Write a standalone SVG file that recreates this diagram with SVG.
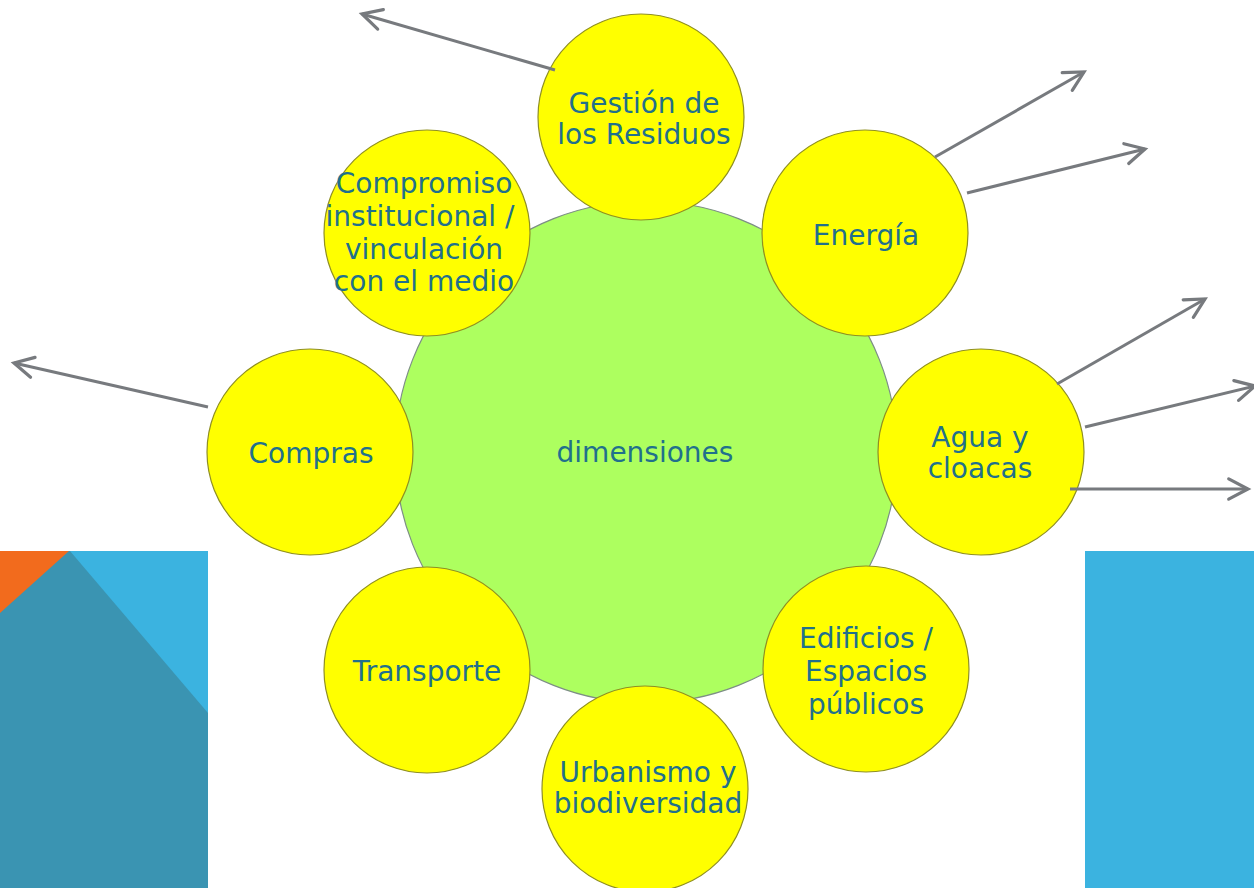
<svg xmlns="http://www.w3.org/2000/svg" width="1254" height="888" viewBox="0 0 1254 888">
<defs>
<style>
.bg{fill:#ffffff}
.hub{fill:#adff5f;stroke:#7d8e86;stroke-width:1.2}
.dim{fill:#ffff00;stroke:#8f8f22;stroke-width:1.2}
.lbl{font-family:"DejaVu Sans","Verdana",sans-serif;font-size:28px;fill:#21708c;text-anchor:middle}
.arr{stroke:#777a7e;stroke-width:3;fill:none;marker-end:url(#head)}
</style>
<marker id="head" markerUnits="userSpaceOnUse" markerWidth="30" markerHeight="30" viewBox="-22 -14 26 28" refX="0" refY="0" orient="auto">
<path d="M-18,-9.5 L0,0 L-18,9.5" fill="none" stroke="#777a7e" stroke-width="3" stroke-linecap="round" stroke-linejoin="miter"/>
</marker>
</defs>
<rect class="bg" x="0" y="0" width="1254" height="888"/>
<g id="background">
<rect x="0" y="551" width="208" height="337" fill="#3a94b2"/>
<polygon points="70,551 208,551 208,713" fill="#3bb3e0"/>
<polygon points="0,551 69,551 0,613" fill="#f26b1d"/>
<rect x="1085" y="551" width="169" height="337" fill="#3bb3e0"/>
</g>
<g id="hub">
<circle class="hub" cx="646" cy="452" r="251"/>
<text class="lbl" x="645" y="462">dimensiones</text>
</g>
<g id="gestion">
<circle class="dim" cx="641" cy="117" r="103"/>
<text class="lbl" x="644" y="113">Gestión de</text>
<text class="lbl" x="644" y="144">los Residuos</text>
</g>
<g id="energia">
<circle class="dim" cx="865" cy="233" r="103"/>
<text class="lbl" x="866" y="245">Energía</text>
</g>
<g id="agua">
<circle class="dim" cx="981" cy="452" r="103"/>
<text class="lbl" x="980" y="447">Agua y</text>
<text class="lbl" x="980" y="478">cloacas</text>
</g>
<g id="edificios">
<circle class="dim" cx="866" cy="669" r="103"/>
<text class="lbl" x="866" y="648">Edificios /</text>
<text class="lbl" x="866" y="681">Espacios</text>
<text class="lbl" x="866" y="714">públicos</text>
</g>
<g id="urbanismo">
<circle class="dim" cx="645" cy="789" r="103"/>
<text class="lbl" x="648" y="782">Urbanismo y</text>
<text class="lbl" x="648" y="813">biodiversidad</text>
</g>
<g id="transporte">
<circle class="dim" cx="427" cy="670" r="103"/>
<text class="lbl" x="427" y="681">Transporte</text>
</g>
<g id="compras">
<circle class="dim" cx="310" cy="452" r="103"/>
<text class="lbl" x="311" y="463">Compras</text>
</g>
<g id="compromiso">
<circle class="dim" cx="427" cy="233" r="103"/>
<text class="lbl" x="424" y="193">Compromiso</text>
<text class="lbl" x="420" y="226">institucional /</text>
<text class="lbl" x="424" y="259">vinculación</text>
<text class="lbl" x="424" y="291">con el medio</text>
</g>
<g id="connectors">
<line class="arr" x1="555" y1="70" x2="362" y2="14"/>
<line class="arr" x1="935" y1="157" x2="1084" y2="72"/>
<line class="arr" x1="967" y1="193" x2="1145" y2="149"/>
<line class="arr" x1="1057" y1="384" x2="1205" y2="299"/>
<line class="arr" x1="1085" y1="427" x2="1255" y2="386"/>
<line class="arr" x1="1070" y1="489" x2="1248" y2="489"/>
<line class="arr" x1="208" y1="407" x2="14" y2="363"/>
</g>
</svg>
